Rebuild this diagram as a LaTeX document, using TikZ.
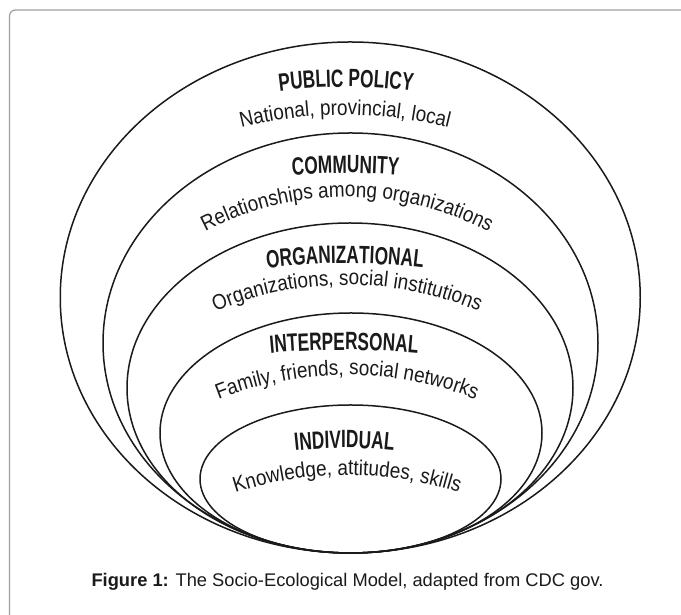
\documentclass[tikz,border=0pt]{standalone}
\usepackage{fontspec}
\usetikzlibrary{decorations.text}
\newfontfamily\titlefam[FakeStretch=0.69]{Liberation Sans}
\newfontfamily\subfam[FakeStretch=0.88]{Liberation Sans}
\newfontfamily\capfam{Liberation Sans}
\definecolor{ink}{HTML}{1A1A1A}
\definecolor{frame}{HTML}{A0A0A0}
\newcommand\mytitlefont{\titlefam\bfseries\fontsize{25pt}{28pt}\selectfont\color{ink}}
\newcommand\mysubfont{\subfam\fontsize{21.5pt}{24pt}\selectfont\color{ink}}
\tikzset{
  ring/.style={draw=ink, line width=1.5pt},
  arctext/.style={decorate, decoration={text along path, text align=center, text={#1}}},
  framebox/.style={draw=frame, line width=1.2pt, rounded corners=6pt}
}
\begin{document}
\begin{tikzpicture}[x=1pt,y=1pt]
\clip (0,0) rectangle (681,615);
\fill[white] (0,0) rectangle (681,615);
\draw[framebox] (9.5,-20) rectangle (720,605);
% ellipses
\draw[ring] (350.25,317.5) ellipse [x radius=290pt, y radius=255.5pt];
\draw[ring] (350.5,272) ellipse [x radius=247.5pt, y radius=210pt];
\draw[ring] (350,227) ellipse [x radius=223pt, y radius=165pt];
\draw[ring] (351,182) ellipse [x radius=191pt, y radius=120pt];
\draw[ring] (350.5,136) ellipse [x radius=150.5pt, y radius=74pt];
% titles
\path[arctext={|\mytitlefont|PUBLIC POLICY}] ([shift={(346,28)}]105:500) arc[start angle=105,end angle=75,radius=500pt];
\path[arctext={|\mytitlefont|COMMUNITY}] ([shift={(345.5,-238)}]100:680) arc[start angle=100,end angle=80,radius=680pt];
\path[arctext={|\mytitlefont|ORGANIZATIONAL}] ([shift={(345,-298.5)}]102:650) arc[start angle=102,end angle=78,radius=650pt];
\path[arctext={|\mytitlefont|INTERPERSONAL}] ([shift={(344,-535)}]100:800) arc[start angle=100,end angle=80,radius=800pt];
\path[arctext={|\mytitlefont|INDIVIDUAL}] ([shift={(344.5,-293)}]102:460) arc[start angle=102,end angle=78,radius=460pt];
% subtitles
\path[arctext={|\mysubfont|National, provincial, local}] ([shift={(345,70)}]115:430) arc[start angle=115,end angle=65,radius=430pt];
\path[arctext={|\mysubfont|Relationships among organizations}] ([shift={(347,113)}]130:305) arc[start angle=130,end angle=50,radius=305pt];
\path[arctext={|\mysubfont|Organizations, social institutions}] ([shift={(347,-10)}]125:340) arc[start angle=125,end angle=55,radius=340pt];
\path[arctext={|\mysubfont|Family, friends, social networks}] ([shift={(347,-110)}]125:350) arc[start angle=125,end angle=55,radius=350pt];
\path[arctext={|\mysubfont|Knowledge, attitudes, skills}] ([shift={(347,-220)}]120:360) arc[start angle=120,end angle=60,radius=360pt];
% caption
\node[font=\capfam\fontsize{18.3pt}{22pt}\selectfont, text=ink, inner sep=0pt] (caption) at (347.5,33) {\textbf{Figure 1:} The Socio-Ecological Model, adapted from CDC gov.};
\end{tikzpicture}
\end{document}
